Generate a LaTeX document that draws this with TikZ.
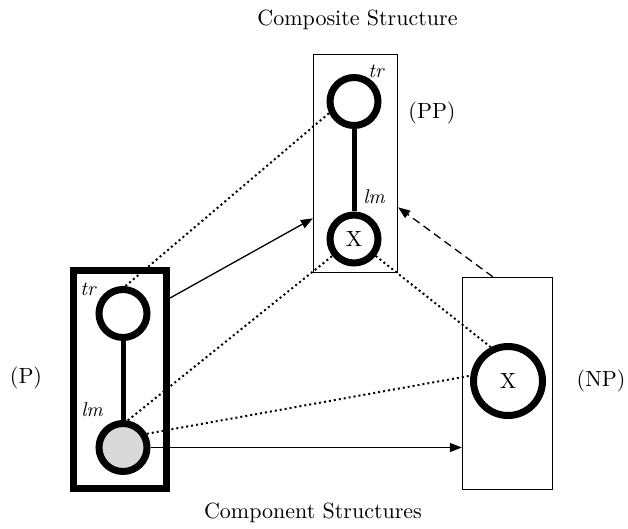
\documentclass[tikz,border=0pt]{standalone}
\usepackage{fontspec}
\setmainfont{lmroman10-regular.otf}[ItalicFont=lmroman10-italic.otf]
\usetikzlibrary{arrows.meta,calc}
\begin{document}
\begin{tikzpicture}[x=1pt,y=-1pt,
  txt/.style={font=\fontsize{22}{26}\selectfont, inner sep=0pt},
  role/.style={font=\fontsize{20}{24}\selectfont\itshape, inner sep=0pt},
  thinbox/.style={draw, line width=1.3pt, rectangle, inner sep=0pt},
  thickbox/.style={draw, line width=7pt, rectangle, inner sep=0pt},
  ring/.style={draw, circle, line width=7pt, fill=white, inner sep=0pt,
    minimum size=48pt, font=\fontsize{22}{26}\selectfont},
  link/.style={line width=5pt},
  corr/.style={line width=2pt, dash pattern=on 2pt off 3pt},
  arr/.style={line width=1.3pt, -{Triangle[length=12pt,width=9pt]}},
  darr/.style={line width=1.3pt, dash pattern=on 8pt off 5pt,
    -{Triangle[length=12pt,width=9pt]}}]
  \useasboundingbox (0,0) rectangle (628,529);

  % titles and category labels
  \node[txt] (ttop) at (357.5,20) {Composite Structure};
  \node[txt] (tbot) at (313,513) {Component Structures};
  \node[txt] (lp)  at (26,378)  {(P)};
  \node[txt] (lpp) at (432,113) {(PP)};
  \node[txt] (lnp) at (601,381) {(NP)};

  % boxes
  \node[thinbox, minimum width=84pt, minimum height=218pt] (PPbox) at (355.5,163.5) {};
  \node[thickbox, minimum width=93pt, minimum height=218pt] (Pbox) at (120,379.5) {};
  \node[thinbox, minimum width=90pt, minimum height=212pt] (NPbox) at (507.5,383.5) {};

  % composite structure (PP)
  \node[ring] (PPtop) at (354,101.5) {};
  \node[ring] (PPX) at (354,239) {X};
  \draw[link] (PPtop.south) -- (PPX.north);
  \node[role] (PPtr) at (376,71) {tr};
  \node[role] (PPlm) at (374,197) {lm};

  % component structure (P)
  \node[ring] (Ptop) at (123,313.5) {};
  \node[ring, fill={rgb,255:red,217;green,217;blue,217}] (Plm) at (123,447.5) {};
  \draw[link] (Ptop.south) -- (Plm.north);
  \node[role] (Ptr) at (88,289) {tr};
  \node[role] (Plmlab) at (92,410) {lm};

  % component structure (NP)
  \node[ring, minimum size=69pt] (NPX) at (508,381) {X};

  % correspondences
  \draw[corr] (Ptop.85) -- (PPtop.205);
  \draw[corr] (Plm.80) -- (PPX.218);
  \draw[corr] (Plm.30) -- (NPX.172);
  \draw[corr] (PPX.-38) -- (NPX.117);

  % composition arrows
  \draw[arr] ($(Pbox.north east)!0.138!(Pbox.south east)$)
    -- ($(PPbox.north west)!0.75!(PPbox.south west)$);
  \draw[arr] (Plm.east) -- (Plm.east -| NPbox.west);
  \draw[darr] ($(NPbox.north west)!0.34!(NPbox.north east)$)
    -- ($(PPbox.north east)!0.70!(PPbox.south east)$);
\end{tikzpicture}
\end{document}
